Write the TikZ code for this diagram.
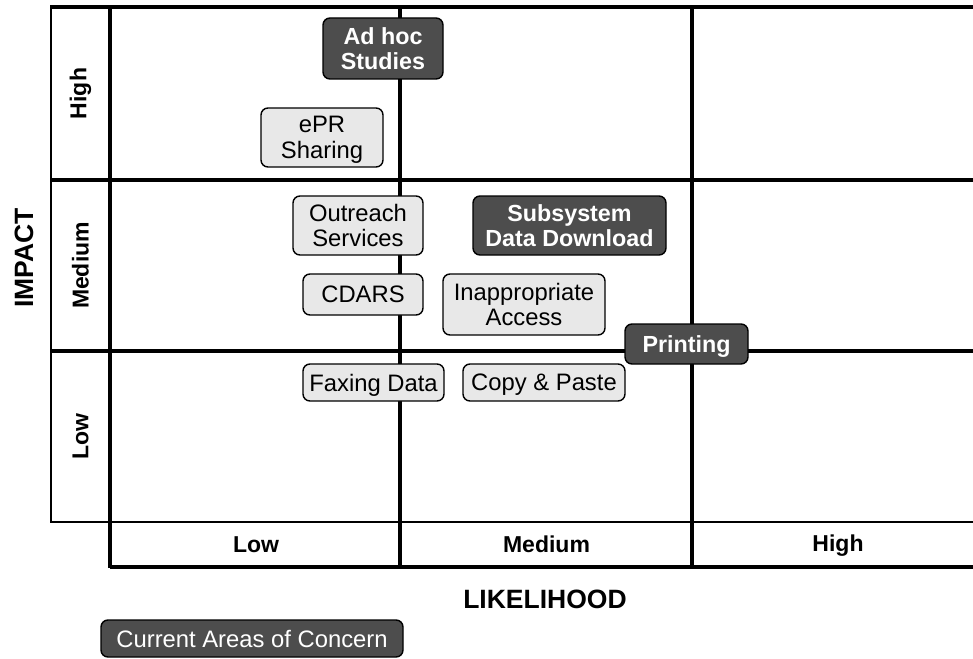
\documentclass[tikz,border=0pt]{standalone}
\usepackage{fontspec}
\setmainfont{Liberation Sans}
\definecolor{darkbox}{RGB}{77,77,77}
\definecolor{lightbox}{RGB}{232,232,232}

\begin{document}
\begin{tikzpicture}[x=1pt,y=-1pt,
  thickrule/.style={line width=3.3pt},
  thinrule/.style={line width=2pt},
  box/.style={draw=black, line width=1.4pt, rounded corners=7pt, inner sep=0pt,
    align=center, text depth=0pt, font=\fontsize{23.8}{25.5}\selectfont},
  lowbox/.style={box, fill=lightbox, text=black},
  hotbox/.style={box, fill=darkbox, text=white,
    font=\fontsize{23.3}{25.5}\selectfont\bfseries},
  legendbox/.style={box, fill=darkbox, text=white},
  axislabel/.style={font=\fontsize{23}{25}\selectfont\bfseries},
  axistitle/.style={font=\fontsize{26.5}{29}\selectfont\bfseries}
]
\useasboundingbox (0,0) rectangle (973,658);

% grid: horizontal rules
\draw[thickrule] (50,7) -- (973,7);
\draw[thickrule] (50,180) -- (973,180);
\draw[thickrule] (50,351) -- (973,351);
\draw[thinrule]  (50,522) -- (973,522);
\draw[thickrule] (110,567) -- (973,567);
% grid: vertical rules
\draw[thinrule]  (51,6) -- (51,523);
\draw[thickrule] (110,6) -- (110,568);
\draw[thickrule] (400,6) -- (400,568);
\draw[thickrule] (692,6) -- (692,568);

% axis titles
\node[axistitle, rotate=90] (impact) at (24,258) {IMPACT};
\node[axistitle] (likelihood) at (545,599) {LIKELIHOOD};

% impact levels
\node[axislabel, rotate=90] (ihigh) at (80.5,93.5) {High};
\node[axislabel, rotate=90] (imed)  at (80.5,265.5) {Medium};
\node[axislabel, rotate=90] (ilow)  at (80.5,436.5) {Low};

% likelihood levels
\node[axislabel] (llow)  at (256,544.5) {Low};
\node[axislabel] (lmed)  at (546.5,544.5) {Medium};
\node[axislabel] (lhigh) at (838,546) {High};

% risk items
\node[hotbox, minimum width=120pt, minimum height=61pt] (adhoc) at (383,48.5) {Ad hoc\\Studies};
\node[lowbox, minimum width=122pt, minimum height=59pt] (epr) at (322,137.5) {ePR\\Sharing};
\node[lowbox, minimum width=130pt, minimum height=59pt] (outreach) at (358,225.5) {Outreach\\Services};
\node[hotbox, minimum width=193pt, minimum height=59pt] (subsys) at (569.5,225.5) {Subsystem\\Data Download};
\node[lowbox, minimum width=120pt, minimum height=41pt] (cdars) at (363,294.5) {CDARS};
\node[lowbox, minimum width=162pt, minimum height=61pt] (inapp) at (524,304.5) {Inappropriate\\Access};
\node[hotbox, minimum width=123pt, minimum height=40pt] (printing) at (686.5,344) {Printing};
\node[lowbox, minimum width=141pt, minimum height=37pt] (fax) at (373.5,382.5) {Faxing Data};
\node[lowbox, minimum width=162pt, minimum height=37pt] (copy) at (544,382.5) {Copy \& Paste};

% legend
\node[legendbox, minimum width=302pt, minimum height=37pt] (legend) at (252,638.5) {Current Areas of Concern};
\end{tikzpicture}
\end{document}
